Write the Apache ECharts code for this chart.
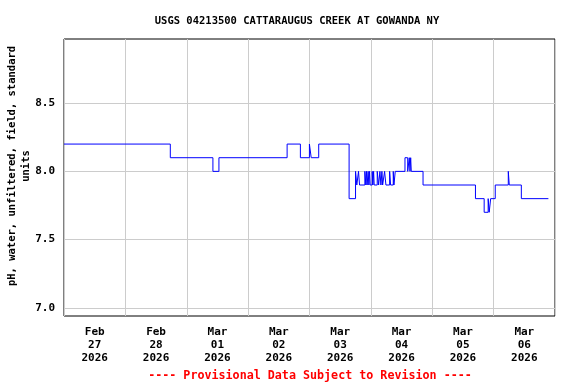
<!DOCTYPE html>
<html>
<head>
<meta charset="utf-8">
<script src="https://cdn.jsdelivr.net/npm/echarts@6/dist/echarts.min.js"></script>
<style>
html,body{margin:0;padding:0;background:#fff;}
#c{width:576px;height:384px;}
</style>
</head>
<body>
<div id="c"></div>
<script>
// ---- data (UTC-naive local times) ----
var times = [
"2026-02-27 00:00","2026-02-28 17:34","2026-03-01 10:14","2026-03-01 12:35",
"2026-03-02 15:15","2026-03-02 20:26","2026-03-02 23:58","2026-03-03 00:40",
"2026-03-03 03:36","2026-03-03 15:29","2026-03-03 18:00","2026-03-03 18:30",
"2026-03-03 19:10","2026-03-03 19:34","2026-03-03 21:39","2026-03-03 22:02",
"2026-03-03 22:18","2026-03-03 22:32","2026-03-03 22:56","2026-03-03 23:13",
"2026-03-03 23:29","2026-03-03 23:44","2026-03-04 00:31","2026-03-04 00:47",
"2026-03-04 01:04","2026-03-04 01:18","2026-03-04 02:29","2026-03-04 03:02",
"2026-03-04 03:32","2026-03-04 03:56","2026-03-04 04:19","2026-03-04 04:36",
"2026-03-04 05:22","2026-03-04 05:53","2026-03-04 07:20","2026-03-04 07:43",
"2026-03-04 08:45","2026-03-04 09:01","2026-03-04 09:32","2026-03-04 13:20",
"2026-03-04 14:24","2026-03-04 15:01","2026-03-04 15:18","2026-03-04 15:34",
"2026-03-04 15:48","2026-03-04 20:24","2026-03-05 16:54","2026-03-05 20:18",
"2026-03-05 21:52","2026-03-05 22:16","2026-03-05 22:50","2026-03-06 00:38",
"2026-03-06 05:44","2026-03-06 06:07","2026-03-06 10:50","2026-03-06 21:25"
];
var phValues = [
8.2,8.1,8.0,8.1,
8.2,8.1,8.2,8.1,
8.2,7.8,8.0,7.9,
8.0,7.9,8.0,7.9,
8.0,7.9,8.0,7.9,
8.0,7.9,8.0,7.9,
8.0,7.9,8.0,7.9,
8.0,7.9,8.0,7.9,
8.0,7.9,8.0,7.9,
8.0,7.9,8.0,8.1,
8.0,8.1,8.0,8.1,
8.0,7.9,7.8,7.7,
7.8,7.7,7.8,7.9,
8.0,7.9,7.8,7.8
];
var dayLabels = [
["Feb","27","2026"],["Feb","28","2026"],["Mar","01","2026"],["Mar","02","2026"],
["Mar","03","2026"],["Mar","04","2026"],["Mar","05","2026"],["Mar","06","2026"]
];
var yTicks = [7.0, 7.5, 8.0, 8.5];
var titleText = "USGS 04213500 CATTARAUGUS CREEK AT GOWANDA NY";
var yName = "pH, water, unfiltered, field, standard\nunits";
var footText = "---- Provisional Data Subject to Revision ----";

function toMs(s){
  var p = s.split(/[- :]/).map(Number);
  return Date.UTC(p[0], p[1]-1, p[2], p[3], p[4]);
}
var DAY = 86400000;
var xMin = Date.UTC(2026,1,27);
var xMax = Date.UTC(2026,2,7);
var noonVals = dayLabels.map(function(d,i){ return xMin + i*DAY + DAY/2; });
var labelMap = {};
noonVals.forEach(function(v,i){ labelMap[v] = dayLabels[i].join("\n"); });
var seriesData = times.map(function(t,i){ return [toMs(t), phValues[i]]; });

var FONT = "DejaVu Sans Mono";
var chart = echarts.init(document.getElementById('c'), null, {renderer:'canvas'});
chart.setOption({
  animation:false,
  backgroundColor:'#fff',
  title:[
    {text:titleText, left:292, top:11, textAlign:'center',
     textStyle:{fontFamily:FONT, fontWeight:'bold', fontSize:10.5, color:'#000'}},
    {text:footText, left:305, top:365, textAlign:'center',
     textStyle:{fontFamily:FONT, fontWeight:'bold', fontSize:11.7, color:'#ff0000'}}
  ],
  graphic:[
    {type:'text', x:19, y:166, rotation:Math.PI/2,
     style:{text:yName, align:'center', verticalAlign:'middle', lineHeight:14,
       font:'bold 10.5px "DejaVu Sans Mono"', fill:'#000'}}
  ],
  grid:{left:64, top:39, width:491, height:277, show:true, borderColor:'#000', borderWidth:1,
        containLabel:false, outerBoundsMode:'none'},
  xAxis:[
    {type:'value', min:xMin, max:xMax, interval:DAY,
     axisLine:{show:false}, axisTick:{show:false}, axisLabel:{show:false},
     splitLine:{show:true, lineStyle:{color:'#cccccc', width:1}}},
    {type:'value', min:xMin, max:xMax, position:'bottom',
     axisLine:{show:false}, axisTick:{show:false}, splitLine:{show:false},
     axisLabel:{show:true, customValues:noonVals, margin:10, lineHeight:13,
       fontFamily:FONT, fontWeight:'bold', fontSize:11, color:'#000',
       formatter:function(v){ return labelMap[v] || ''; }}}
  ],
  yAxis:{type:'value', min:6.94, max:8.97,
    axisLine:{show:false},
    axisTick:{show:false, customValues:yTicks},
    splitLine:{show:true, lineStyle:{color:'#cccccc', width:1}},
    axisLabel:{customValues:yTicks, margin:9, fontFamily:FONT, fontWeight:'bold', fontSize:11, color:'#000',
      formatter:function(v){ return v.toFixed(1); }}
  },
  series:[{
    type:'line', xAxisIndex:0, step:'end', data:seriesData, showSymbol:false,
    lineStyle:{color:'#0000ff', width:1}, clip:true
  }]
});
</script>
</body>
</html>
